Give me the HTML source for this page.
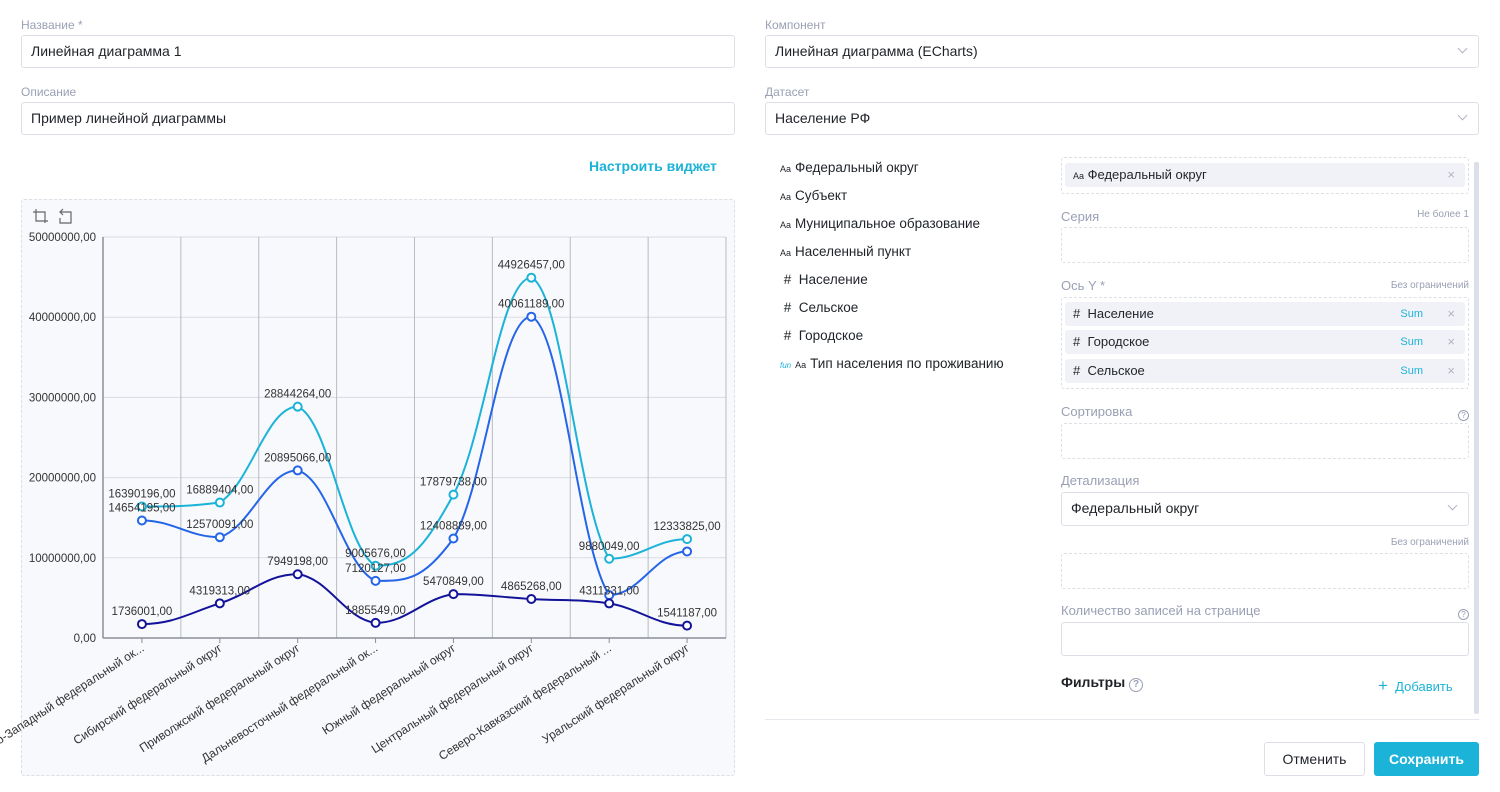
<!DOCTYPE html>
<html><head><meta charset="utf-8">
<style>
*{box-sizing:border-box;margin:0;padding:0}
body{width:1500px;height:792px;background:#fff;font-family:"Liberation Sans","DejaVu Sans",sans-serif;color:#1f2328;position:relative;overflow:hidden;font-size:14px}
.a{position:absolute}
.lbl{font-size:12px;color:#9aa0b4}
.inp{border:1px solid #dcdfe6;border-radius:3px;height:33px;padding:0 9px;line-height:31px;font-size:14px;color:#1f2328}
.dash{border:1px dashed #dcdfe6;border-radius:3px}
.chip{background:#f1f2f7;border-radius:3px;height:24px;line-height:24px;font-size:13px;padding-left:8px}
.x{position:absolute;right:10px;top:0;color:#b0b4c2;font-size:13px}
.sum{position:absolute;right:42px;top:0;color:#1bb3d8;font-size:11px}
.field{font-size:13.5px;color:#1f2328;height:28px;line-height:28px}
.field small{font-size:9px;margin-right:4px}
.chev{position:absolute;right:12px;top:9px;width:7px;height:7px;border-right:1px solid #b0b4c2;border-bottom:1px solid #b0b4c2;transform:rotate(45deg)}
.hint{font-size:10px;color:#9aa0b4}
.q{display:inline-block;width:11px;height:11px;border:1px solid #9aa0b4;border-radius:50%;font-size:8px;line-height:9px;text-align:center;color:#9aa0b4}
</style></head><body>

<div class="a lbl" style="left:21px;top:18px">Название *</div>
<div class="a inp" style="left:21px;top:35px;width:714px">Линейная диаграмма 1</div>
<div class="a lbl" style="left:21px;top:85px">Описание</div>
<div class="a inp" style="left:21px;top:102px;width:714px">Пример линейной диаграммы</div>
<div class="a" style="left:589px;top:158px;color:#1bb3d8;font-size:14px;font-weight:bold">Настроить виджет</div>

<div class="a dash" style="left:21px;top:199px;width:714px;height:577px;background:#f8f9fc"></div>

<div class="a lbl" style="left:765px;top:18px">Компонент</div>
<div class="a inp" style="left:765px;top:35px;width:714px">Линейная диаграмма (ECharts)<span class="chev"></span></div>
<div class="a lbl" style="left:765px;top:85px">Датасет</div>
<div class="a inp" style="left:765px;top:102px;width:714px">Население РФ<span class="chev"></span></div>

<div class="a" style="left:780px;top:154px;width:280px">
<div class="field"><small>Aa</small>Федеральный округ</div>
<div class="field"><small>Aa</small>Субъект</div>
<div class="field"><small>Aa</small>Муниципальное образование</div>
<div class="field"><small>Aa</small>Населенный пункт</div>
<div class="field">&nbsp;#&nbsp; Население</div>
<div class="field">&nbsp;#&nbsp; Сельское</div>
<div class="field">&nbsp;#&nbsp; Городское</div>
<div class="field"><small style="color:#1bb3d8;font-style:italic;font-size:8px">fun</small><small>Aa</small>Тип населения по проживанию</div>
</div>

<div class="a" style="left:1474px;top:162px;width:5px;height:552px;background:#dcdfea;border-radius:2px"></div>

<div class="a dash" style="left:1061px;top:157px;width:408px;height:37px"></div>
<div class="a chip" style="left:1065px;top:163px;width:400px"><small style="font-size:9px">Aa</small> Федеральный округ<span class="x">×</span></div>
<div class="a lbl" style="left:1061px;top:209px;font-size:13px">Серия</div>
<div class="a hint" style="right:31px;top:209px">Не более 1</div>
<div class="a dash" style="left:1061px;top:227px;width:408px;height:36px"></div>
<div class="a lbl" style="left:1061px;top:278px;font-size:13px">Ось Y *</div>
<div class="a hint" style="right:31px;top:280px">Без ограничений</div>
<div class="a dash" style="left:1061px;top:297px;width:408px;height:92px"></div>
<div class="a chip" style="left:1065px;top:302px;width:400px"># &nbsp;Население<span class="sum">Sum</span><span class="x">×</span></div>
<div class="a chip" style="left:1065px;top:330px;width:400px"># &nbsp;Городское<span class="sum">Sum</span><span class="x">×</span></div>
<div class="a chip" style="left:1065px;top:359px;width:400px"># &nbsp;Сельское<span class="sum">Sum</span><span class="x">×</span></div>
<div class="a lbl" style="left:1061px;top:404px;font-size:13px">Сортировка</div>
<div class="a" style="right:31px;top:405px"><span class="q">?</span></div>
<div class="a dash" style="left:1061px;top:423px;width:408px;height:36px"></div>
<div class="a lbl" style="left:1061px;top:473px;font-size:13px">Детализация</div>
<div class="a inp" style="left:1061px;top:492px;width:408px;height:34px">Федеральный округ<span class="chev"></span></div>
<div class="a hint" style="right:31px;top:537px">Без ограничений</div>
<div class="a dash" style="left:1061px;top:553px;width:408px;height:36px"></div>
<div class="a lbl" style="left:1061px;top:603px;font-size:13px">Количество записей на странице</div>
<div class="a" style="right:31px;top:604px"><span class="q">?</span></div>
<div class="a inp" style="left:1061px;top:622px;width:408px;height:34px"></div>
<div class="a" style="left:1061px;top:674px;font-size:14px;font-weight:bold;color:#1f2328">Фильтры <span class="q" style="width:14px;height:14px;line-height:12px;font-size:10px">?</span></div>
<div class="a" style="left:1378px;top:676px;color:#1bb3d8;font-size:13px"><span style="font-size:17px;font-weight:normal">+</span>&nbsp; Добавить</div>
<div class="a" style="left:765px;top:719px;width:714px;height:1px;background:#e6e8ee"></div>
<div class="a" style="left:1264px;top:742px;width:101px;height:34px;border:1px solid #dcdfe6;border-radius:3px;text-align:center;line-height:32px;font-size:14px">Отменить</div>
<div class="a" style="left:1374px;top:742px;width:105px;height:34px;background:#1bb3d8;border-radius:3px;text-align:center;line-height:34px;font-size:14px;color:#fff;font-weight:bold">Сохранить</div>

<svg class="a" style="left:0;top:0" width="1500" height="792" id="s" font-family="Liberation Sans, DejaVu Sans, sans-serif">
<g stroke="#666" fill="none" stroke-width="1.2">
<path d="M33 212h12v11M36 209v12h12"/>
<path d="M60 212h11v11h-11v-5M63 209l-3 3 3 3"/>
</g>
</svg>
<script>
var s=document.getElementById('s'),h='';
var L=103,R=726,T=237,B=638,n=8,w=(R-L)/n;
function Y(v){return B-(B-T)*v/5e7}
function cl(v,a,b){var lo=Math.min(a,b),hi=Math.max(a,b);return Math.max(lo,Math.min(hi,v))}
for(var i=0;i<=5;i++){var y=Y(i*1e7);h+='<line x1="'+L+'" x2="'+R+'" y1="'+y+'" y2="'+y+'" stroke="#d9dbe3"/>';
h+='<text x="96" y="'+(y+4)+'" font-size="11.5" text-anchor="end" fill="#333">'+(i*1e7)+',00</text>';}
for(var i=1;i<=n;i++){var x=L+i*w;h+='<line x1="'+x+'" x2="'+x+'" y1="'+T+'" y2="'+B+'" stroke="#b8bac4"/>';}
h+='<line x1="'+L+'" x2="'+L+'" y1="'+T+'" y2="'+B+'" stroke="#8a8d99" stroke-width="1.5"/>';
h+='<line x1="'+L+'" x2="'+R+'" y1="'+B+'" y2="'+B+'" stroke="#8a8d99" stroke-width="1.5"/>';
var cats=['Северо-Западный федеральный ок...','Сибирский федеральный округ','Приволжский федеральный округ','Дальневосточный федеральный ок...','Южный федеральный округ','Центральный федеральный округ','Северо-Кавказский федеральный ...','Уральский федеральный округ'];
for(var i=0;i<n;i++){var x=L+(i+.5)*w;h+='<line x1="'+x+'" x2="'+x+'" y1="'+B+'" y2="'+(B+5)+'" stroke="#8a8d99"/>';
h+='<text transform="translate('+(x+3)+','+(B+12)+') rotate(-33)" font-size="12" text-anchor="end" fill="#333">'+cats[i]+'</text>';}
var S=[[ '#1bb3d8',[16390196,16889404,28844264,9005676,17879738,44926457,9880049,12333825],[1,1,1,1,1,1,1,1]],
['#2565e8',[14654195,12570091,20895066,7120127,12408889,40061189,5350000,10790000],[1,1,1,1,1,1,0,0]],
['#13139a',[1736001,4319313,7949198,1885549,5470849,4865268,4311331,1541187],[1,1,1,1,1,1,1,1]]];
var lab='';
S.forEach(function(sr){var p=sr[1].map(function(v,i){return [L+(i+.5)*w,Y(v)]});
var d='M'+p[0][0]+' '+p[0][1];
for(var i=0;i<n-1;i++){var p0=p[Math.max(i-1,0)],p1=p[i],p2=p[i+1],p3=p[Math.min(i+2,n-1)],k=0.2;
var c1=[p1[0]+w*0.4,p1[1]+(p2[1]-p0[1])*k],c2=[p2[0]-w*0.4,p2[1]-(p3[1]-p1[1])*k];
if(i==0)c1[1]=p1[1];if(i==n-2)c2[1]=p2[1];
c1[1]=cl(c1[1],p1[1],p2[1]);c2[1]=cl(c2[1],p1[1],p2[1]);
d+=' C'+c1[0]+' '+c1[1]+' '+c2[0]+' '+c2[1]+' '+p2[0]+' '+p2[1];}
h+='<path d="'+d+'" fill="none" stroke="'+sr[0]+'" stroke-width="2"/>';
p.forEach(function(q,i){h+='<circle cx="'+q[0]+'" cy="'+q[1]+'" r="4" fill="#fff" stroke="'+sr[0]+'" stroke-width="2"/>';
if(sr[2][i])lab+='<text x="'+q[0]+'" y="'+(q[1]-9)+'" font-size="11.5" text-anchor="middle" fill="#333">'+sr[1][i]+',00</text>';});
});
s.insertAdjacentHTML('beforeend',h+lab);
</script>
</body></html>
